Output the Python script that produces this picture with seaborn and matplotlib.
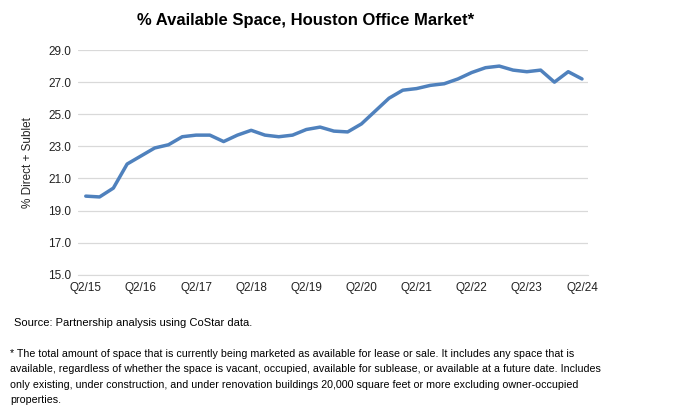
import pandas as pd
import seaborn as sns
import matplotlib.pyplot as plt

# quarterly, Q2/15 .. Q2/24
quarters = ["Q2/15", "Q3/15", "Q4/15", "Q1/16", "Q2/16", "Q3/16", "Q4/16", "Q1/17",
            "Q2/17", "Q3/17", "Q4/17", "Q1/18", "Q2/18", "Q3/18", "Q4/18", "Q1/19",
            "Q2/19", "Q3/19", "Q4/19", "Q1/20", "Q2/20", "Q3/20", "Q4/20", "Q1/21",
            "Q2/21", "Q3/21", "Q4/21", "Q1/22", "Q2/22", "Q3/22", "Q4/22", "Q1/23",
            "Q2/23", "Q3/23", "Q4/23", "Q1/24", "Q2/24"]
available = [19.9, 19.85, 20.4, 21.9, 22.4, 22.9, 23.1, 23.6,
             23.7, 23.7, 23.3, 23.7, 24.0, 23.7, 23.6, 23.7,
             24.05, 24.2, 23.95, 23.9, 24.4, 25.2, 26.0, 26.5,
             26.6, 26.8, 26.9, 27.2, 27.6, 27.9, 28.0, 27.75,
             27.65, 27.75, 27.0, 27.65, 27.2]
yticks = [15, 17, 19, 21, 23, 25, 27, 29]

df = pd.DataFrame({"idx": range(len(quarters)), "quarter": quarters, "pct": available})

sns.set_style("white")
plt.rcParams["font.family"] = ["Liberation Sans", "DejaVu Sans"]

fig = plt.figure(figsize=(6.8, 4.17), dpi=100)
ax = fig.add_axes([0.115, 0.341, 0.75, 0.539])

sns.lineplot(data=df, x="idx", y="pct", ax=ax, color="#4F81BD", linewidth=2.5)
ax.lines[0].set_solid_joinstyle("round")
ax.lines[0].set_solid_capstyle("round")

ax.set_ylim(15, 29)
ax.set_yticks(yticks)
ax.set_yticklabels([f"{v:.1f}" for v in yticks], fontsize=8.5)
ax.set_xlim(-0.55, 36.45)
ax.set_xticks(df["idx"][::4])
ax.set_xticklabels(df["quarter"][::4], fontsize=8.5)
ax.tick_params(length=0, pad=5, colors="#222222")
ax.grid(axis="y", color="#D9D9D9", linewidth=0.9)
for s in ["top", "right", "left"]:
    ax.spines[s].set_visible(False)
ax.spines["bottom"].set_color("#D9D9D9")
ax.set_xlabel("")
ax.set_ylabel("% Direct + Sublet", fontsize=8.5, labelpad=10, color="#222222")

fig.text(0.45, 0.95, "% Available Space, Houston Office Market*", ha="center",
         va="center", fontsize=12, fontweight="bold", color="black")
fig.text(0.02, 0.225, "Source: Partnership analysis using CoStar data.", fontsize=8,
         va="center", color="black")
note = ("* The total amount of space that is currently being marketed as available for lease or sale. It includes any space that is\n"
        "available, regardless of whether the space is vacant, occupied, available for sublease, or available at a future date. Includes\n"
        "only existing, under construction, and under renovation buildings 20,000 square feet or more excluding owner-occupied\n"
        "properties.")
fig.text(0.015, 0.163, note, fontsize=7.7, va="top", linespacing=1.68, color="black")

plt.savefig("out.png", dpi=100)
